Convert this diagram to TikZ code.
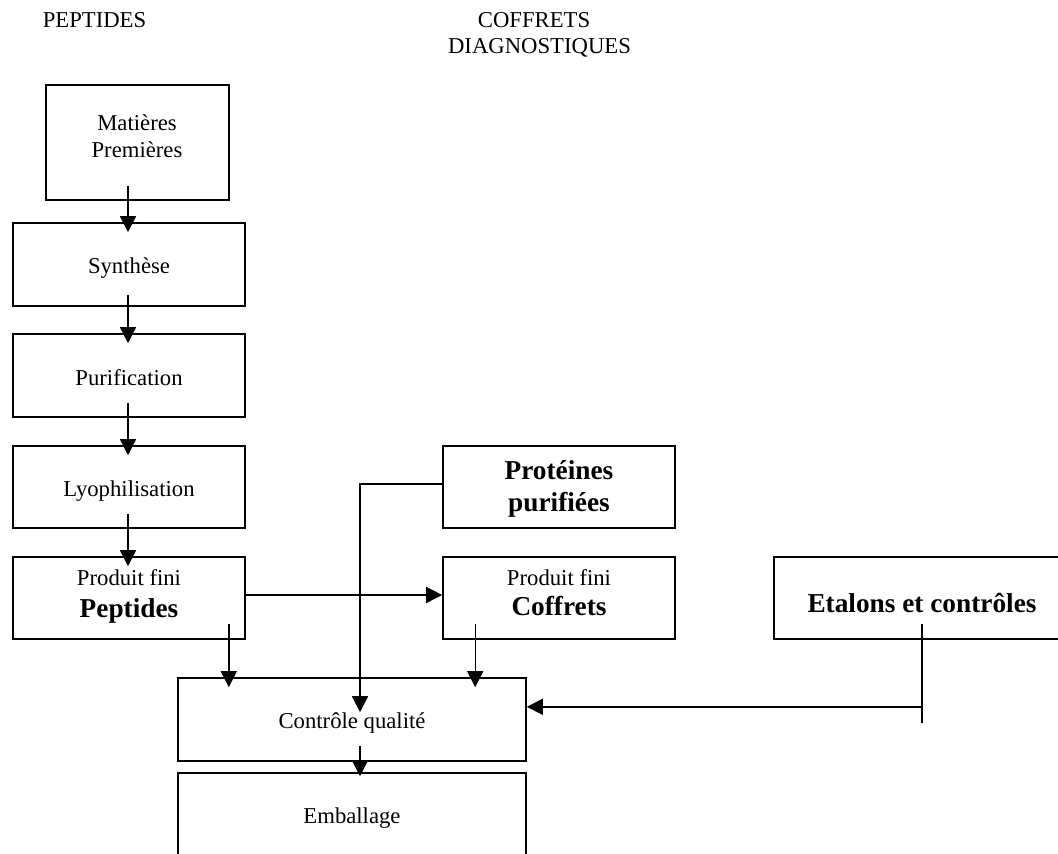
\documentclass[tikz,border=0pt]{standalone}
\usepackage{fontspec}
\setmainfont{Liberation Serif}
\usetikzlibrary{arrows.meta,calc}
\begin{document}
\begin{tikzpicture}[x=0.5pt,y=-0.5pt,
  box/.style={draw,line width=0.8pt,inner sep=0pt,rectangle},
  txt/.style={anchor=base,inner sep=0pt,font=\fontsize{11.35}{13.6}\selectfont},
  btxt/.style={anchor=base,inner sep=0pt,font=\fontsize{13.65}{16}\selectfont\bfseries},
  ln/.style={line width=0.7pt},
  arr/.style={line width=0.7pt,-{Triangle[length=8pt,width=8pt]}}]
\useasboundingbox (0,0) rectangle (1058,853);
% boxes
\node[box,minimum width=91.5pt,minimum height=57.5pt] (mat) at (137.5,142.5) {};
\node[box,minimum width=116pt,minimum height=41.5pt] (syn) at (129,264.5) {};
\node[box,minimum width=116pt,minimum height=41.5pt] (pur) at (129,375.5) {};
\node[box,minimum width=116pt,minimum height=41pt] (lyo) at (129,487) {};
\node[box,minimum width=116pt,minimum height=41pt] (pep) at (129,598) {};
\node[box,minimum width=116pt,minimum height=41pt] (prot) at (559,487) {};
\node[box,minimum width=116pt,minimum height=41pt] (cof) at (559,598) {};
\node[box,minimum width=148pt,minimum height=41pt] (eta) at (922,598) {};
\node[box,minimum width=174pt,minimum height=41.5pt] (cq) at (352,719.5) {};
\node[box,minimum width=174pt,minimum height=41.5pt] (emb) at (352,814.5) {};
% texts
\node[txt] (tpep) at (94.5,27) {PEPTIDES};
\node[txt] (tcof1) at (534,27) {COFFRETS};
\node[txt] (tcof2) at (539.5,53) {DIAGNOSTIQUES};
\node[txt] (tmat1) at (137,130) {Matières};
\node[txt] (tmat2) at (137,157) {Premières};
\node[txt] (tsyn) at (129,273) {Synthèse};
\node[txt] (tpur) at (129,385) {Purification};
\node[txt] (tlyo) at (129,496) {Lyophilisation};
\node[txt] (tpf1) at (129,585) {Produit fini};
\node[btxt] (tpf2) at (129,617) {Peptides};
\node[btxt] (tpr1) at (559,479) {Protéines};
\node[btxt] (tpr2) at (559,511) {purifiées};
\node[txt] (tcf1) at (559,585) {Produit fini};
\node[btxt] (tcf2) at (559,615) {Coffrets};
\node[btxt] (teta) at (922,612) {Etalons et contrôles};
\node[txt] (tcq) at (352,728) {Contrôle qualité};
\node[txt] (temb) at (352,823) {Emballage};
% connectors
\draw[arr] ($(mat.south -| syn.north)+(-1,-15)$) -- ($(syn.north)+(-1,10)$);
\draw[arr] ($(syn.south)+(-1,-12)$) -- ($(pur.north)+(-1,10)$);
\draw[arr] ($(pur.south)+(-1,-15)$) -- ($(lyo.north)+(-1,10)$);
\draw[arr] ($(lyo.south)+(-1,-15)$) -- ($(pep.north)+(-1,10)$);
\draw[arr] ($(pep.east)+(0,-3)$) -- ($(cof.west)+(0,-3)$);
\draw[arr] ($(pep.south east)+(-17,-16)$) coordinate (pa) -- ($(pa |- cq.north)+(0,10)$);
\draw[arr] ($(cof.south west)+(33,-16)$) coordinate (ca) -- ($(ca |- cq.north)+(0,10)$);
\draw[arr] ($(prot.west)+(0,-3)$) -| ($(cq.north)+(8,35)$);
\draw[ln] ($(eta.south)+(0,-16)$) -- ($(eta.south)+(0,83)$);
\draw[arr] ($(eta.south)+(0,67)$) coordinate (ea) -- (ea -| cq.east);
\draw[arr] ($(cq.south)+(8,-16)$) -- ($(emb.north)+(8,4)$);
\end{tikzpicture}
\end{document}
